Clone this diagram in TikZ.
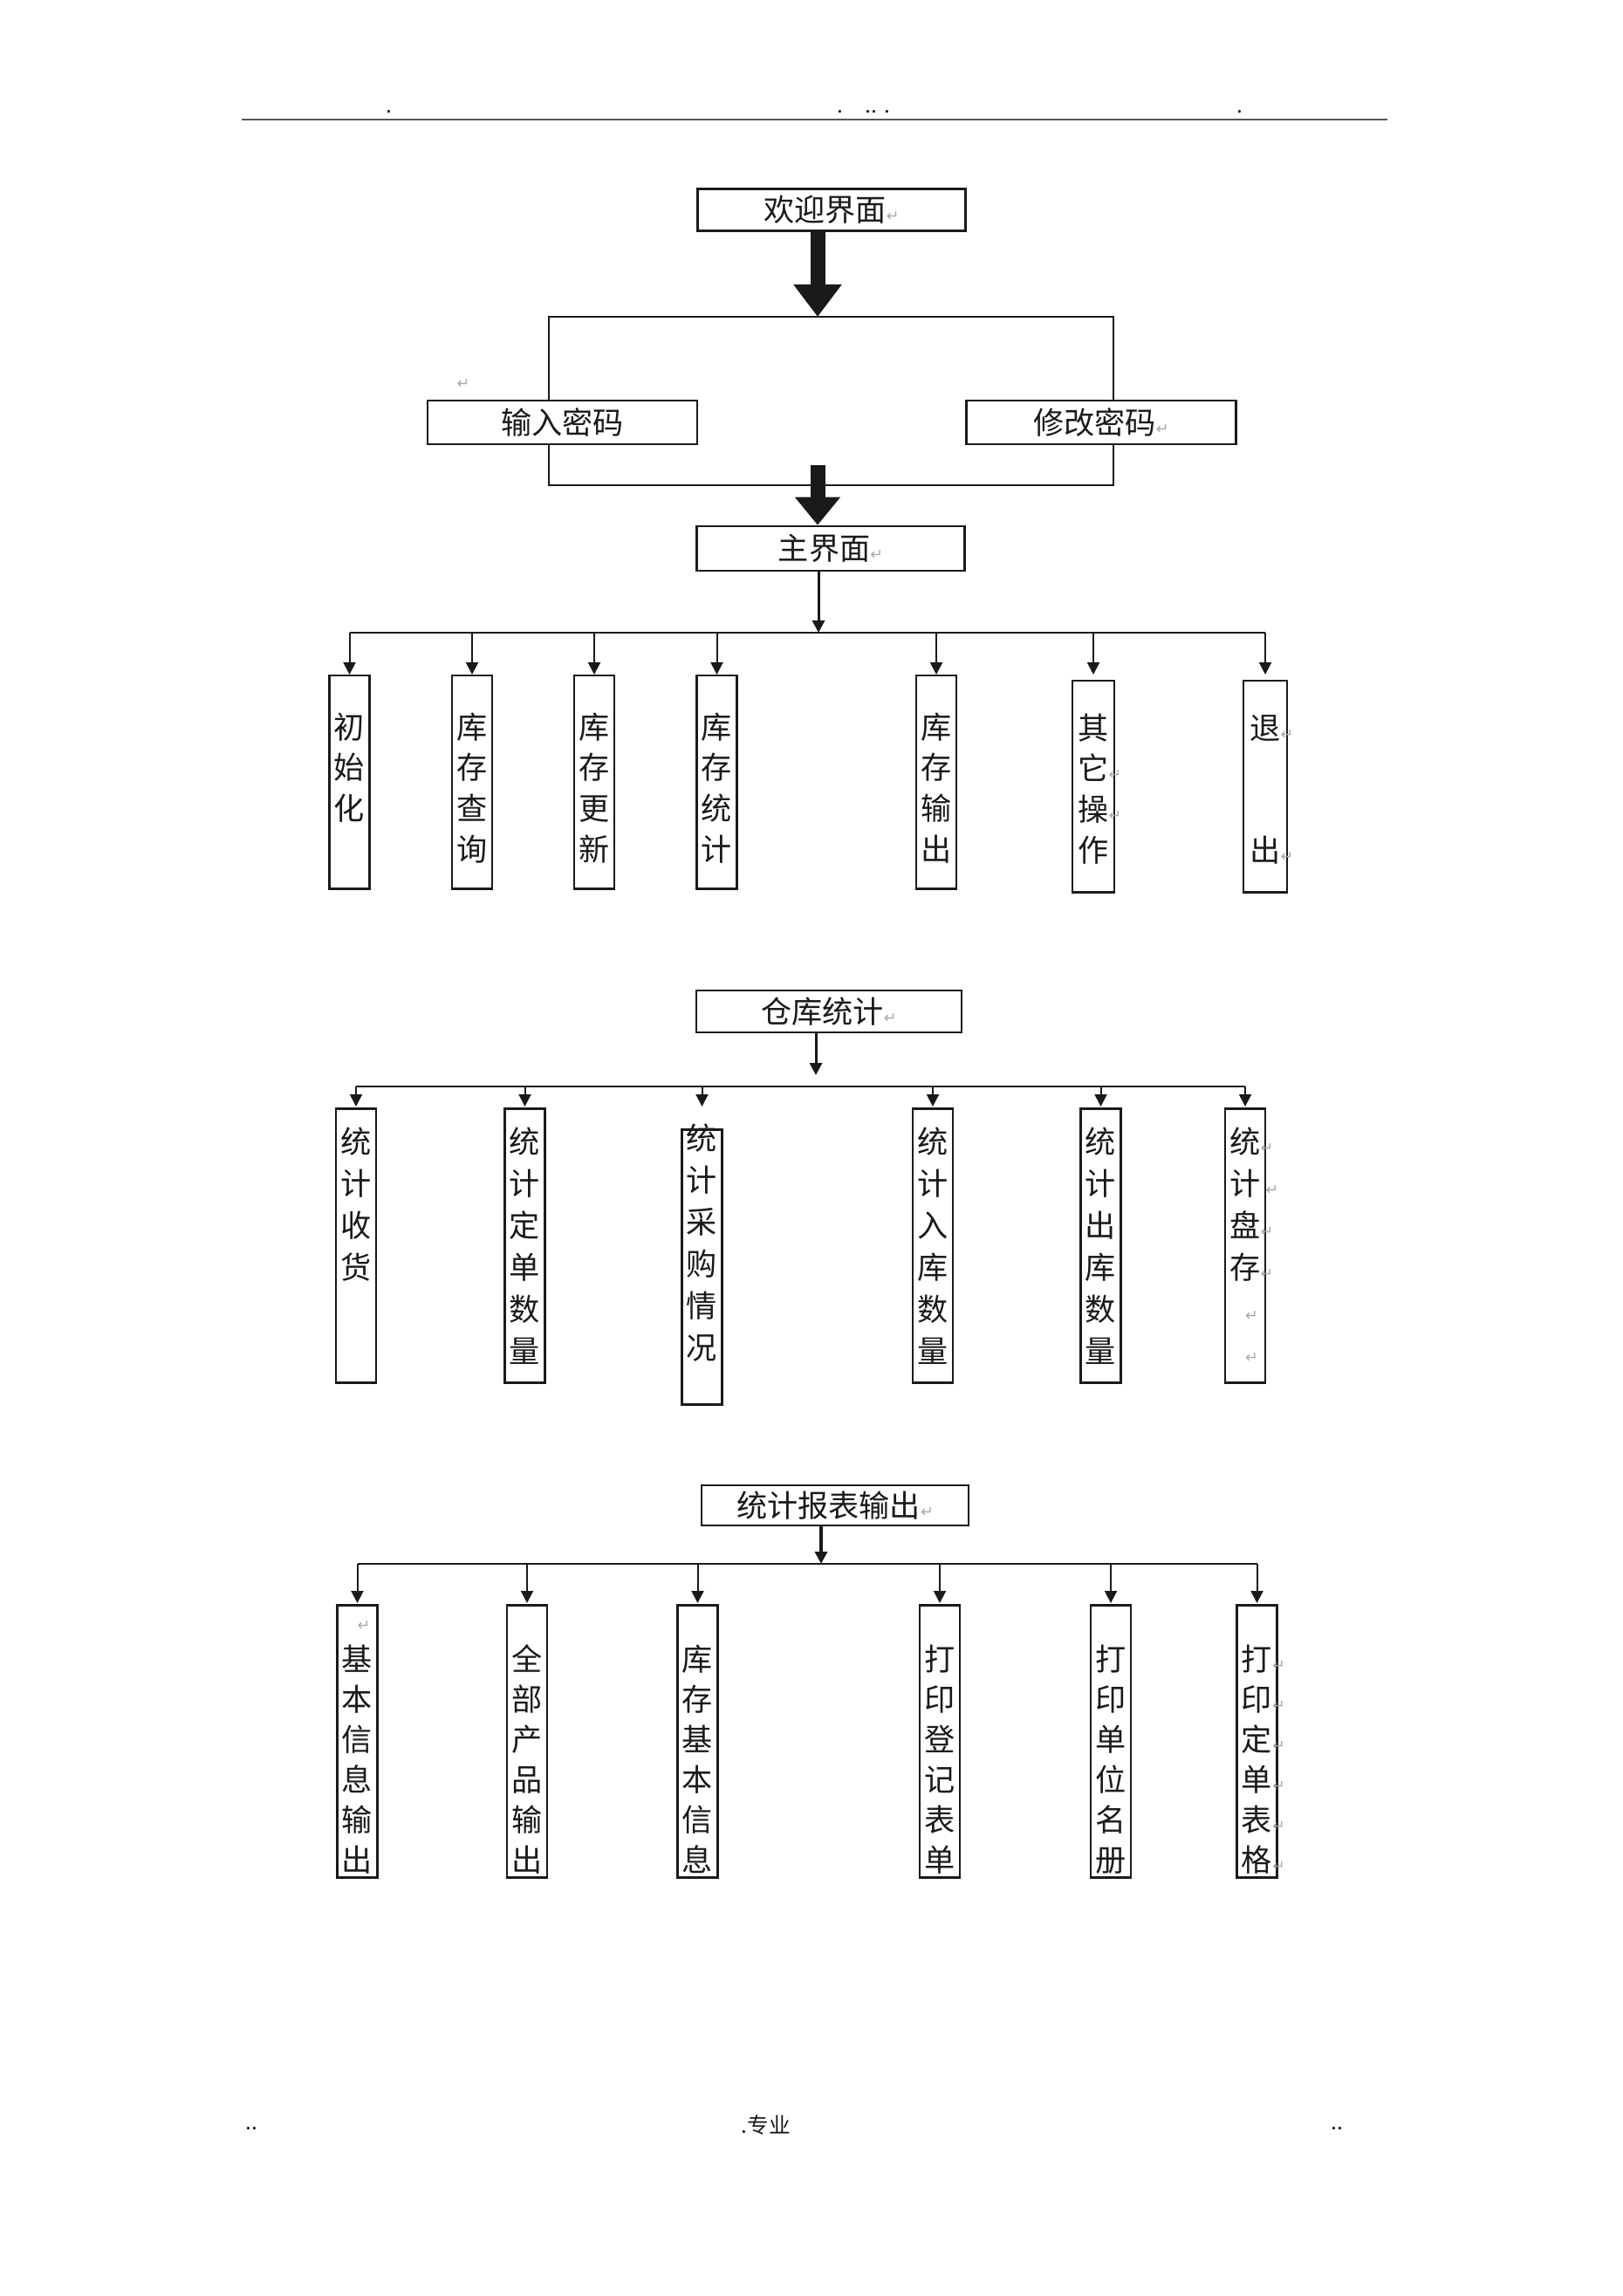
\documentclass[tikz,border=0pt]{standalone}
\usepackage{fontspec}
\usetikzlibrary{arrows.meta, positioning}
\setmainfont{Noto Sans CJK SC}
\newfontfamily\symfont{DejaVu Sans}
\definecolor{cink}{HTML}{1A1A1A}
\definecolor{cmark}{HTML}{A8A8A8}
\definecolor{crule}{HTML}{555555}
\newcommand{\retmark}{{\symfont\fontsize{5}{6}\selectfont\color{cmark}↵}}
\newcommand{\colchars}[1]{\begin{tabular}[t]{@{}c@{}}#1\end{tabular}}
\tikzset{
  every picture/.style={line width=0.02cm, color=cink},
  title/.style={draw=cink, line width=0.025cm, minimum width=3.07cm, minimum height=0.48cm, inner sep=0pt, font=\fontsize{10}{12}\selectfont},
  pwbox/.style={title, minimum width=3.09cm, minimum height=0.50cm,
    append after command={[line width=0.05cm] (\tikzlastnode.north west) -- (\tikzlastnode.north east)
      (\tikzlastnode.south west) -- (\tikzlastnode.south east)}},
  leaf/.style={draw=cink, line width=0.025cm, minimum width=0.46cm, inner sep=0pt, anchor=north},
  leafone/.style={leaf, font=\fontsize{10}{13.3}\selectfont, text height=0.72cm, text depth=1.72cm},
  leaftwo/.style={leaf, font=\fontsize{10}{13.65}\selectfont, text height=0.51cm, text depth=2.63cm},
  leafthree/.style={leaf, font=\fontsize{10}{13.1}\selectfont, text height=0.75cm, text depth=2.37cm},
  bigarrow/.style={-{Triangle[length=0.37cm, width=0.53cm]}, line width=0.17cm, draw=cink},
  arrow/.style={-{Triangle[length=0.14cm, width=0.14cm]}, draw=cink},
  bus/.style={line width=0.025cm, draw=cink},
  note/.style={font=\fontsize{7}{8}\selectfont, inner sep=0pt},
}

\begin{document}
\begin{tikzpicture}
  \useasboundingbox (0,0) rectangle (18.6,-26.31);
  % page header
  \coordinate (hl) at (2.77,-1.37);
  \coordinate (hr) at (15.90,-1.37);
  \draw[line width=0.025cm, draw=crule] (hl) -- (hr);
  \node[note] (hd1) at (4.46,-1.28) {.};
  \node[note] (hd2) at (9.90,-1.28) {.\hspace{0.25cm}..\hspace{0.08cm}.};
  \node[note] (hd3) at (14.21,-1.28) {.};

  % login part
  \node[title] (welcome) at (9.53,-2.405) {欢迎界面\retmark};
  \coordinate (jtop) at (9.37,-3.63);
  \node[pwbox] (inpw) at (6.445,-4.84) {输入密码};
  \node[pwbox] (chpw) at (12.62,-4.84) {修改密码\retmark};
  \node[note] (retpw) at (5.31,-4.40) {\retmark};
  \coordinate (jbot) at (9.37,-5.56);
  \coordinate (jarr) at (9.37,-5.33);
  \draw[bigarrow] (welcome.south -| jtop) -- (jtop);
  \draw ([xshift=-0.16cm]inpw.north) |- ([xshift=0.14cm]chpw.north |- jtop) -- ([xshift=0.14cm]chpw.north);
  \draw ([xshift=-0.16cm]inpw.south) |- ([xshift=0.14cm]chpw.south |- jbot) -- ([xshift=0.14cm]chpw.south);

  % main menu
  \node[title, minimum height=0.51cm] (mainui) at (9.52,-6.285) {主界面\retmark};
  \draw[bigarrow, -{Triangle[length=0.32cm, width=0.50cm]}] (jarr) -- (mainui.north -| jarr);
  \coordinate (bus1) at (9.38,-7.25);
  \coordinate (tip1) at (0,-7.73);
  \node[leafone] (c1) at (4.005,-7.73) {\colchars{初\\始\\化}};
  \node[leafone] (c2) at (5.41,-7.73) {\colchars{库\\存\\查\\询}};
  \node[leafone] (c3) at (6.81,-7.73) {\colchars{库\\存\\更\\新}};
  \node[leafone] (c4) at (8.215,-7.73) {\colchars{库\\存\\统\\计}};
  \node[leafone] (c5) at (10.73,-7.73) {\colchars{库\\存\\输\\出}};
  \node[leafone, minimum width=0.48cm, text height=0.67cm, text depth=1.75cm] (c6) at (12.53,-7.79) {\colchars{其\\它\rlap{\retmark}\\操\rlap{\retmark}\\作}};
  \node[leafone, minimum width=0.50cm, text height=0.67cm, text depth=1.75cm] (c7) at (14.50,-7.79) {\colchars{退\rlap{\retmark}\\{}\\{}\\出\rlap{\retmark}}};
  \draw[arrow, line width=0.03cm] (mainui.south -| bus1) -- (bus1);
  \draw[bus] (c1.north |- bus1) -- (c7.north |- bus1);
  \foreach \n in {c1,c2,c3,c4,c5,c6,c7}
    \draw[arrow] (\n.north |- bus1) -- (\n.north |- tip1);

  % warehouse statistics
  \node[title, minimum width=3.04cm] (stat) at (9.50,-11.59) {仓库统计\retmark};
  \coordinate (arr2) at (9.35,-12.32);
  \coordinate (bus2) at (9.35,-12.45);
  \coordinate (tip2) at (0,-12.68);
  \node[leaftwo] (s1) at (4.08,-12.69) {\colchars{统\\计\\收\\货}};
  \node[leaftwo] (s2) at (6.015,-12.69) {\colchars{统\\计\\定\\单\\数\\量}};
  \node[leaftwo, text height=0.23cm, text depth=2.92cm] (s3) at (8.045,-12.93) {\colchars{统\\计\\采\\购\\情\\况}};
  \node[leaftwo] (s4) at (10.69,-12.69) {\colchars{统\\计\\入\\库\\数\\量}};
  \node[leaftwo] (s5) at (12.615,-12.69) {\colchars{统\\计\\出\\库\\数\\量}};
  \node[leaftwo] (s6) at (14.27,-12.69) {\colchars{统\rlap{\retmark}\\计\rlap{\,\retmark}\\盘\rlap{\retmark}\\存\rlap{\retmark}\\\rlap{\retmark}\\\rlap{\retmark}}};
  \draw[arrow, line width=0.03cm] (stat.south -| arr2) -- (arr2);
  \draw[bus] (s1.north |- bus2) -- (s6.north |- bus2);
  \foreach \n in {s1,s2,s3,s4,s5,s6}
    \draw[arrow] (\n.north |- bus2) -- (\n.north |- tip2);

  % report output
  \node[title, minimum width=3.06cm, minimum height=0.46cm] (report) at (9.57,-17.25) {统计报表输出\retmark};
  \coordinate (bus3) at (9.41,-17.92);
  \coordinate (tip3) at (0,-18.37);
  \node[leafthree, text height=0.29cm, text depth=2.83cm] (r1) at (4.095,-18.38) {\colchars{\rlap{\retmark}\\基\\本\\信\\息\\输\\出}};
  \node[leafthree] (r2) at (6.04,-18.38) {\colchars{全\\部\\产\\品\\输\\出}};
  \node[leafthree] (r3) at (7.995,-18.38) {\colchars{库\\存\\基\\本\\信\\息}};
  \node[leafthree] (r4) at (10.77,-18.38) {\colchars{打\\印\\登\\记\\表\\单}};
  \node[leafthree] (r5) at (12.73,-18.38) {\colchars{打\\印\\单\\位\\名\\册}};
  \node[leafthree] (r6) at (14.405,-18.38) {\colchars{打\rlap{\retmark}\\印\rlap{\retmark}\\定\rlap{\retmark}\\单\rlap{\retmark}\\表\rlap{\retmark}\\格\rlap{\retmark}}};
  \draw[arrow, line width=0.045cm] (report.south -| bus3) -- (bus3);
  \draw[bus] (r1.north |- bus3) -- (r6.north |- bus3);
  \foreach \n in {r1,r2,r3,r4,r5,r6}
    \draw[arrow] (\n.north |- bus3) -- (\n.north |- tip3);

  % page footer
  \node[note] (f1) at (2.88,-24.39) {..};
  \node[note] (f2) at (8.78,-24.35) {.专业};
  \node[note] (f3) at (15.32,-24.39) {..};
\end{tikzpicture}
\end{document}
